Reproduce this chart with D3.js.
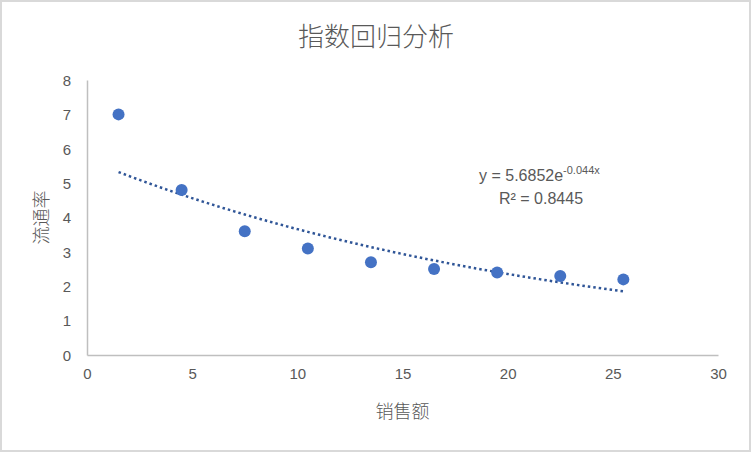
<!DOCTYPE html>
<html>
<head>
<meta charset="utf-8">
<script src="https://cdn.jsdelivr.net/npm/d3@7"></script>
<style>
  html, body { margin: 0; padding: 0; background: #fff; }
  svg { display: block; }
</style>
</head>
<body>
<script>
  // data
  const salesX = [1.5, 4.5, 7.5, 10.5, 13.5, 16.5, 19.5, 22.5, 25.5];
  const rateY = [7.0, 4.8, 3.6, 3.1, 2.7, 2.5, 2.4, 2.3, 2.2];
  const xTicks = [0, 5, 10, 15, 20, 25, 30];
  const yTicks = [0, 1, 2, 3, 4, 5, 6, 7, 8];
  // trendline coefficients as shown in the label
  const trendA = 5.6852;
  const trendB = -0.044;
  const rSquared = 0.8445;

  const width = 751;
  const height = 452;
  const margin = { left: 87, right: 33, top: 80, bottom: 97 };

  const svg = d3.select("body")
    .append("svg")
    .attr("width", width)
    .attr("height", height);

  // outer frame
  svg.append("rect")
    .attr("x", 1)
    .attr("y", 1)
    .attr("width", width - 2)
    .attr("height", height - 2)
    .attr("fill", "#fff")
    .attr("stroke", "#d9d9d9")
    .attr("stroke-width", 2);

  const x = d3.scaleLinear().domain([0, 30]).range([margin.left, width - margin.right]);
  const y = d3.scaleLinear().domain([0, 8]).range([height - margin.bottom, margin.top]);

  const font = "'Noto Sans CJK SC', 'DejaVu Sans', sans-serif";
  const latin = "'Liberation Sans', 'DejaVu Sans', sans-serif";
  const textColor = "#595959";

  // title
  svg.append("text")
    .attr("x", 376)
    .attr("y", 46)
    .attr("text-anchor", "middle")
    .attr("font-family", font)
    .attr("font-size", 26)
    .attr("font-weight", 300)
    .attr("fill", textColor)
    .text("指数回归分析");

  // axes
  const xAxis = svg.append("g")
    .attr("transform", `translate(0,${y(0)})`)
    .call(d3.axisBottom(x).tickValues(xTicks).tickSize(0).tickPadding(13));
  const yAxis = svg.append("g")
    .attr("transform", `translate(${x(0)},0)`)
    .call(d3.axisLeft(y).tickValues(yTicks).tickSize(0).tickPadding(16));

  [xAxis, yAxis].forEach(g => {
    g.select(".domain").attr("stroke", "#bfbfbf").attr("stroke-width", 1.5);
    g.selectAll("text")
      .attr("font-family", latin)
      .attr("font-size", 15)
      .attr("fill", textColor);
  });
  yAxis.selectAll("text").attr("dy", "0.35em");

  // axis titles
  svg.append("text")
    .attr("x", (x(0) + x(30)) / 2)
    .attr("y", 418)
    .attr("text-anchor", "middle")
    .attr("font-family", font)
    .attr("font-size", 18)
    .attr("font-weight", 300)
    .attr("fill", textColor)
    .text("销售额");

  svg.append("text")
    .attr("transform", `translate(48,${(y(0) + y(8)) / 2}) rotate(-90)`)
    .attr("text-anchor", "middle")
    .attr("font-family", font)
    .attr("font-size", 18)
    .attr("font-weight", 300)
    .attr("fill", textColor)
    .text("流通率");

  // trendline, sampled from the fitted equation over the data range
  const trendPts = d3.range(0, 49).map(i => {
    const xv = salesX[0] + (salesX[salesX.length - 1] - salesX[0]) * i / 48;
    return [xv, trendA * Math.exp(trendB * xv)];
  });
  const line = d3.line()
    .x(d => x(d[0]))
    .y(d => y(d[1]));

  svg.append("path")
    .attr("d", line(trendPts))
    .attr("fill", "none")
    .attr("stroke", "#2f5597")
    .attr("stroke-width", 2.5)
    .attr("stroke-dasharray", "2.5 3");

  // points
  svg.append("g")
    .selectAll("circle")
    .data(salesX.map((d, i) => [d, rateY[i]]))
    .enter()
    .append("circle")
    .attr("cx", d => x(d[0]))
    .attr("cy", d => y(d[1]))
    .attr("r", 6)
    .attr("fill", "#4472c4");

  // equation label
  const eq = svg.append("text")
    .attr("x", 479)
    .attr("y", 181)
    .attr("font-family", latin)
    .attr("font-size", 16)
    .attr("fill", textColor);
  eq.append("tspan").text(`y = ${trendA}e`);
  eq.append("tspan")
    .attr("dy", -7)
    .attr("font-size", 11)
    .text(`${trendB}x`);

  const r2 = svg.append("text")
    .attr("x", 499)
    .attr("y", 204)
    .attr("font-family", latin)
    .attr("font-size", 16)
    .attr("fill", textColor);
  r2.append("tspan").text("R² = " + rSquared);
</script>
</body>
</html>
